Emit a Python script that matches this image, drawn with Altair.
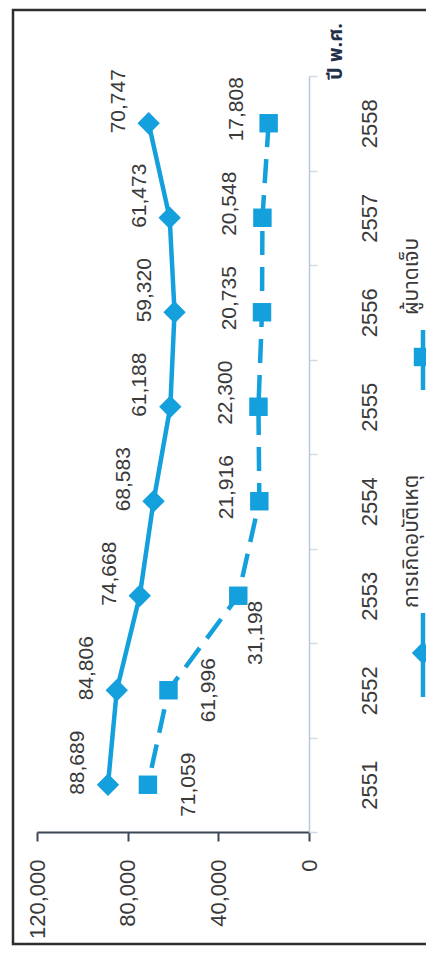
import altair as alt
import pandas as pd

years = [2551, 2552, 2553, 2554, 2555, 2556, 2557, 2558]
accidents = [88689, 84806, 74668, 68583, 61188, 59320, 61473, 70747]
injured = [71059, 61996, 31198, 21916, 22300, 20735, 20548, 17808]
series_names = ["การเกิดอุบัติเหตุ", "ผู้บาดเจ็บ"]
value_ticks = [0, 40000, 80000, 120000]
axis_title = "ปี พ.ศ."

rows = []
for yr, a, i in zip(years, accidents, injured):
    rows.append({"year": yr, "series": series_names[0], "value": a})
    rows.append({"year": yr, "series": series_names[1], "value": i})
df = pd.DataFrame(rows)

BLUE = "#14a0dc"
FONT = "Liberation Sans"
TFONT = "Noto Sans Thai, Loma, Garuda, Norasi, Waree, Liberation Sans, sans-serif"
TXT = "#3a3a3a"

x_enc = alt.X(
    "value:Q",
    scale=alt.Scale(domain=[0, 120000], reverse=True),
    axis=alt.Axis(
        values=value_ticks, labelExpr="format(datum.value, ',.0f')", labelAngle=270,
        orient="bottom", tickSize=9, tickWidth=2, domainWidth=2, domainColor="#3b4756",
        tickColor="#3b4756", labelFontSize=22, labelFont=FONT, labelColor=TXT,
        labelPadding=18, grid=False, title=None,
    ),
)
y_enc = alt.Y(
    "year:O",
    sort="descending",
    scale=alt.Scale(type="band", paddingInner=0, paddingOuter=0),
    bandPosition=0.5,
    axis=alt.Axis(
        orient="right", labelAngle=270, tickBand="extent", labelAlign="center",
        labelBaseline="top", labelPadding=42, tickSize=8, tickWidth=1.5,
        domainColor="#b3cbdd", domainWidth=1.5, tickColor="#d3dbe2",
        labelFontSize=22, labelFont=FONT, labelColor=TXT, grid=False, title=None,
    ),
)

base = alt.Chart(df).encode(x=x_enc, y=y_enc)

acc = base.transform_filter(alt.datum.series == series_names[0])
inj = base.transform_filter(alt.datum.series == series_names[1])

acc_line = acc.mark_line(color=BLUE, strokeWidth=4.5)
inj_line = inj.mark_line(color=BLUE, strokeWidth=4.5, strokeDash=[24, 12])
acc_pts = acc.mark_point(shape="diamond", filled=True, size=500, color=BLUE, opacity=1)
inj_pts = inj.mark_point(shape="square", filled=True, size=340, color=BLUE, opacity=1)

lab = dict(angle=270, fontSize=21, font=FONT, color=TXT)
acc_txt = acc.mark_text(align="center", baseline="bottom", dx=22, dy=-20, **lab).encode(
    text=alt.Text("value:Q", format=",.0f"))
inj_txt_left = inj.transform_filter(alt.datum.year >= 2554).mark_text(
    align="center", baseline="bottom", dx=14, dy=-22, **lab).encode(
    text=alt.Text("value:Q", format=",.0f"))
inj_txt_right = inj.transform_filter(alt.datum.year <= 2552).mark_text(
    align="center", baseline="top", dx=0, dy=30, **lab).encode(
    text=alt.Text("value:Q", format=",.0f"))
inj_txt_mid = inj.transform_filter(alt.datum.year == 2553).mark_text(
    align="right", baseline="middle", dx=-5, dy=18, **lab).encode(
    text=alt.Text("value:Q", format=",.0f"))

one = pd.DataFrame({"k": [0]})
title_txt = alt.Chart(pd.DataFrame({"t": [axis_title]})).mark_text(
    angle=270, align="left", baseline="alphabetic", fontSize=20, fontWeight="bold",
    font=TFONT, color="#22304a").encode(text="t:N", x=alt.value(305), y=alt.value(4))

frame = alt.Chart(one).mark_rect(fillOpacity=0, stroke="#2e2e2e", strokeWidth=2.5).encode(
    x=alt.value(-24), x2=alt.value(430), y=alt.value(-66), y2=alt.value(868))

leg1_line = alt.Chart(one).mark_rule(color=BLUE, strokeWidth=4.5).encode(
    x=alt.value(386), y=alt.value(537), y2=alt.value(621))
leg1_pt = alt.Chart(one).mark_point(shape="diamond", filled=True, size=500, color=BLUE, opacity=1).encode(
    x=alt.value(386), y=alt.value(577))
leg1_txt = alt.Chart(pd.DataFrame({"t": [series_names[0]]})).mark_text(
    angle=270, align="left", baseline="alphabetic", fontSize=21, font=TFONT, color=TXT).encode(
    text="t:N", x=alt.value(381), y=alt.value(532))
leg2_line = alt.Chart(one).mark_rule(color=BLUE, strokeWidth=4.5, strokeDash=[24, 12]).encode(
    x=alt.value(386), y=alt.value(314), y2=alt.value(244))
leg2_pt = alt.Chart(one).mark_point(shape="square", filled=True, size=340, color=BLUE, opacity=1).encode(
    x=alt.value(386), y=alt.value(281))
leg2_txt = alt.Chart(pd.DataFrame({"t": [series_names[1]]})).mark_text(
    angle=270, align="left", baseline="alphabetic", fontSize=21, font=TFONT, color=TXT).encode(
    text="t:N", x=alt.value(381), y=alt.value(239))

chart = alt.layer(
    frame, acc_line, inj_line, acc_pts, inj_pts,
    acc_txt, inj_txt_left, inj_txt_right, inj_txt_mid, title_txt,
    leg1_line, leg1_pt, leg1_txt, leg2_line, leg2_pt, leg2_txt,
).properties(
    width=272, height=756,
    padding={"left": 29, "top": 68, "right": 117, "bottom": 114},
    autosize=alt.AutoSizeParams(type="none"),
    background="white",
).configure_view(strokeWidth=0)

chart.save("out.html", embed_options={"renderer": "svg", "actions": False})
